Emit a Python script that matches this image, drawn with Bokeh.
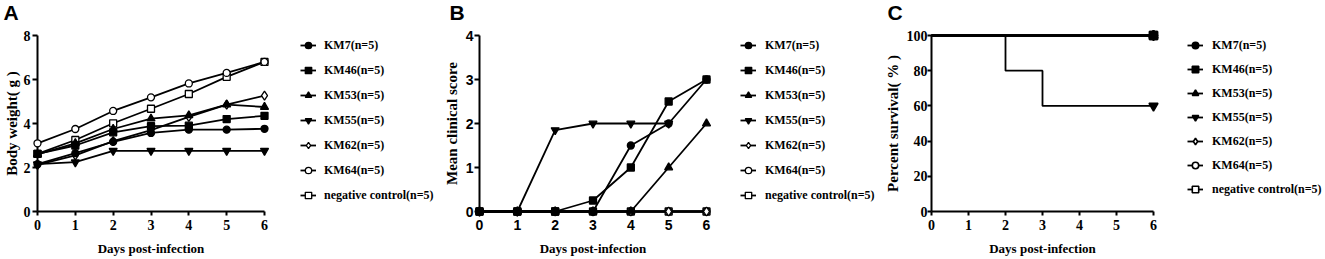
import numpy as np
from bokeh.plotting import figure
from bokeh.models import LinearAxis, FixedTicker, Range1d, Legend, LegendItem, Label
from bokeh.layouts import row, column
from bokeh.embed import file_html
from bokeh.resources import INLINE

# ---------------- data ----------------
days = [0, 1, 2, 3, 4, 5, 6]
groups = ["KM7(n=5)", "KM46(n=5)", "KM53(n=5)", "KM55(n=5)",
          "KM62(n=5)", "KM64(n=5)", "negative control(n=5)"]
panel_letters = ["A", "B", "C"]

# Panel A: body weight (g)
weight_km7 = [2.15, 2.65, 3.17, 3.57, 3.72, 3.72, 3.76]
weight_km46 = [2.62, 3.00, 3.60, 3.88, 3.90, 4.20, 4.35]
weight_km53 = [2.60, 3.10, 3.75, 4.22, 4.37, 4.86, 4.75]
weight_km55 = [2.15, 2.24, 2.76, 2.76, 2.76, 2.76, 2.76]
weight_km62 = [2.12, 2.55, 3.20, 3.70, 4.30, 4.86, 5.27]
weight_km64 = [3.10, 3.75, 4.57, 5.19, 5.82, 6.30, 6.80]
weight_neg = [2.62, 3.25, 4.01, 4.67, 5.34, 6.12, 6.80]

# Panel B: mean clinical score
score_km7 = [0, 0, 0, 0, 1.5, 2, 3]
score_km46 = [0, 0, 0, 0.25, 1, 2.5, 3]
score_km53 = [0, 0, 0, 0, 0, 1, 2]
score_km55 = [0, 0, 1.85, 2, 2, 2, None]
score_km62 = [0, 0, 0, 0, 0, 0, 0]
score_km64 = [0, 0, 0, 0, 0, 0, 0]
score_neg = [0, 0, 0, 0, 0, 0, 0]

# Panel C: percent survival
surv_km7 = [100, 100, 100, 100, 100, 100, 100]
surv_km46 = [100, 100, 100, 100, 100, 100, 100]
surv_km53 = [100, 100, 100, 100, 100, 100, 100]
surv_km55 = [100, 100, 80, 60, 60, 60, 60]
surv_km62 = [100, 100, 100, 100, 100, 100, 100]
surv_km64 = [100, 100, 100, 100, 100, 100, 100]
surv_neg = [100, 100, 100, 100, 100, 100, 100]

x_ticks = [0, 1, 2, 3, 4, 5, 6]
yticks_a = [0, 2, 4, 6, 8]
yticks_b = [0, 1, 2, 3, 4]
yticks_c = [0, 20, 40, 60, 80, 100]

weights = [weight_km7, weight_km46, weight_km53, weight_km55, weight_km62, weight_km64, weight_neg]
scores = [score_km7, score_km46, score_km53, score_km55, score_km62, score_km64, score_neg]
survs = [surv_km7, surv_km46, surv_km53, surv_km55, surv_km62, surv_km64, surv_neg]

# ---------------- styles ----------------
markers = ["circle", "square", "triangle", "inverted_triangle", "diamond", "circle", "square"]
fills = ["black", "black", "black", "black", "white", "white", "white"]
msizes = [7, 7, 8, 8, 9, 7, 7]
SERIF = "Liberation Serif"
SANS = "Liberation Sans"
TOTAL_W = 1325
STRIP_H = 22
H = 259 - STRIP_H
draw_order = list(range(len(groups)))[::-1]   # first series ends up on top


def to_arr(v):
    return np.array([np.nan if a is None else a for a in v], dtype=float)


def blank_fig(W, Hh, xr, yr, left=0, top=0):
    p = figure(width=W, height=Hh, output_backend="svg", toolbar_location=None,
               x_axis_type=None, y_axis_type=None,
               x_range=Range1d(*xr), y_range=Range1d(*yr),
               min_border_left=left, min_border_right=0,
               min_border_top=top, min_border_bottom=0)
    p.outline_line_color = None
    p.background_fill_color = "white"
    p.border_fill_color = "white"
    return p


def make_fig(W, fl, fr, ft, fb, xmax, ymax, yticks, tick_font,
             ylabel, ytick_out, ystand, ylab_stand):
    p = figure(width=W, height=H, output_backend="svg", toolbar_location=None,
               x_axis_type=None, y_axis_type=None,
               x_range=Range1d(0, xmax), y_range=Range1d(0, ymax),
               min_border_left=fl, min_border_right=W - fr,
               min_border_top=ft, min_border_bottom=H - fb)
    p.outline_line_color = None
    p.background_fill_color = "white"
    p.border_fill_color = "white"
    common = dict(axis_line_width=2, axis_line_color="black",
                  major_tick_line_width=2, major_tick_line_color="black",
                  major_tick_in=0, minor_tick_line_color=None,
                  minor_tick_in=0, minor_tick_out=0,
                  major_label_text_font=tick_font,
                  major_label_text_font_style="bold",
                  major_label_text_font_size="14px",
                  major_label_text_color="black",
                  axis_label_text_font=SERIF,
                  axis_label_text_font_style="bold",
                  axis_label_text_color="black")
    xa = LinearAxis(ticker=FixedTicker(ticks=x_ticks), major_tick_out=4,
                    major_label_standoff=4, axis_label="Days post-infection",
                    axis_label_text_font_size="13px", axis_label_standoff=8, **common)
    ya = LinearAxis(ticker=FixedTicker(ticks=yticks), major_tick_out=ytick_out,
                    major_label_standoff=ystand, axis_label=ylabel,
                    axis_label_text_font_size="15px", axis_label_standoff=ylab_stand,
                    **common)
    p.add_layout(xa, "below")
    p.add_layout(ya, "left")
    return p


def draw_series(p, ys, i, step=False, end_only=False, lw=1.3):
    y = to_arr(ys)
    if step:
        lr = p.step(days, y, mode="after", line_color="black", line_width=1.8,
                    level="overlay")
    else:
        lr = p.line(days, y, line_color="black", line_width=1.8, level="overlay")
    if end_only:
        mr = p.scatter([days[-1]], [y[-1]], marker=markers[i], size=msizes[i] + 1,
                       fill_color=fills[i], line_color="black", line_width=1.5,
                       level="overlay")
    else:
        mr = p.scatter(days, y, marker=markers[i], size=msizes[i], fill_color=fills[i],
                       line_color="black", line_width=lw, level="overlay")
    return lr, mr


def legend_fig(W, left, top, series, spacing, standoff, lw):
    # separate legend area; the series are drawn off-range (hidden), only
    # their legend glyphs show
    p = blank_fig(W, H, (100, 101), (100, 101), left=left, top=top)
    items = []
    for i, g in enumerate(groups):
        y = to_arr(series[i])
        lr = p.line(days, y, line_color="black", line_width=1.8)
        mr = p.scatter(days, y, marker=markers[i], size=msizes[i], fill_color=fills[i],
                       line_color="black", line_width=lw)
        items.append(LegendItem(label=g, renderers=[lr, mr]))
    leg = Legend(items=items, location="top_left", orientation="vertical",
                 glyph_width=16, glyph_height=20, label_height=20, spacing=spacing,
                 padding=0, margin=0, label_standoff=standoff,
                 border_line_color=None, background_fill_alpha=0,
                 label_text_font=SERIF, label_text_font_style="bold",
                 label_text_font_size="12px", label_text_color="black")
    p.add_layout(leg)
    return p


# ---------------- letter strip ----------------
strip = blank_fig(TOTAL_W, STRIP_H, (0, TOTAL_W), (0, STRIP_H))
for letter, lx in zip(panel_letters, [3, 449, 887]):
    strip.add_layout(Label(x=lx, y=STRIP_H, text=letter, text_font=SANS,
                           text_font_style="bold", text_font_size="21px",
                           text_align="left", text_baseline="top", text_color="black"))

# ---------------- Panel A ----------------
pA = make_fig(270, 34, 264, 8, 189, 6, 8, yticks_a, SERIF,
              "Body weight( g )", 5, 2, 1)
for i in draw_order:
    draw_series(pA, weights[i], i)
lA = legend_fig(170, 30, 9, weights, 5, 8, 1.3)

# ---------------- Panel B ----------------
pB = make_fig(272, 38, 266, 8, 189, 6, 4, yticks_b, SANS,
              "Mean clinical score", 5, 1, 3)
for i in draw_order:
    draw_series(pB, scores[i], i)
lB = legend_fig(168, 28, 9, scores, 5, 9, 1.3)

# ---------------- Panel C ----------------
pC = make_fig(280, 51, 273, 11, 189, 6, 100, yticks_c, SERIF,
              "Percent survival( % )", 4, 0, 3)
for i in draw_order:
    draw_series(pC, survs[i], i, step=True, end_only=True)
lC = legend_fig(165, 27, 13, survs, 4, 9, 1.6)

layout = column(strip, row(pA, lA, pB, lB, pC, lC, spacing=0), spacing=0)
open("out.html", "w").write(file_html(layout, INLINE))
